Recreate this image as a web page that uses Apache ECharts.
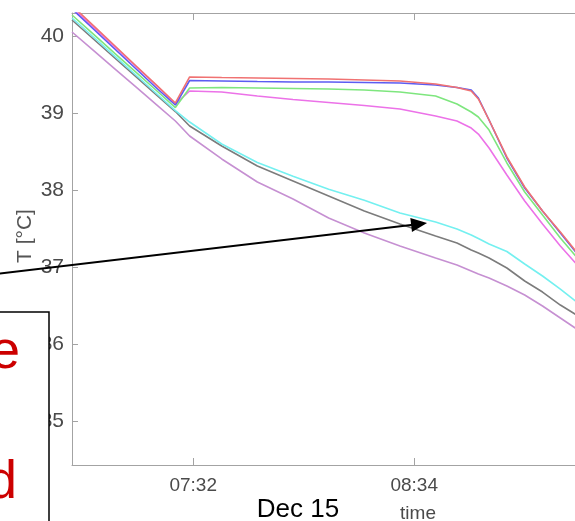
<!DOCTYPE html>
<html>
<head>
<meta charset="utf-8">
<script src="https://cdn.jsdelivr.net/npm/echarts@6/dist/echarts.min.js"></script>
<style>
html,body{margin:0;padding:0;background:#fff;overflow:hidden;width:575px;height:521px;}
#c{width:600px;height:521px;}
</style>
</head>
<body>
<div id="c"></div>
<script>
// time in minutes since midnight (Dec 15)
const times = [418, 424, 430, 436, 442, 447, 451, 460, 470, 480, 490, 500, 510, 520, 526, 530, 532, 535, 540, 545, 550, 555, 560];

const redT     = [40.396, 40.134, 39.873, 39.610, 39.348, 39.130, 39.468, 39.461, 39.455, 39.448, 39.442, 39.429, 39.416, 39.377, 39.331, 39.286, 39.182, 38.909, 38.429, 38.039, 37.727, 37.455, 37.169];
const blueT    = [40.351, 40.091, 39.831, 39.571, 39.312, 39.104, 39.422, 39.416, 39.409, 39.403, 39.403, 39.396, 39.390, 39.364, 39.331, 39.299, 39.195, 38.909, 38.416, 38.026, 37.727, 37.442, 37.156];
const magentaT = [40.370, 40.114, 39.857, 39.601, 39.344, 39.117, 39.286, 39.273, 39.221, 39.175, 39.136, 39.097, 39.052, 38.961, 38.896, 38.805, 38.727, 38.545, 38.195, 37.857, 37.558, 37.273, 37.013];
const greenT   = [40.273, 40.025, 39.775, 39.527, 39.279, 39.071, 39.325, 39.331, 39.325, 39.318, 39.312, 39.299, 39.273, 39.221, 39.117, 39.013, 38.948, 38.779, 38.351, 37.974, 37.675, 37.377, 37.104];
const cyanT    = [40.234, 39.987, 39.738, 39.490, 39.240, 39.032, 38.883, 38.597, 38.358, 38.178, 38.009, 37.866, 37.701, 37.584, 37.494, 37.416, 37.370, 37.299, 37.201, 37.039, 36.883, 36.714, 36.532];
const grayT    = [40.208, 39.961, 39.714, 39.468, 39.221, 39.019, 38.831, 38.571, 38.312, 38.117, 37.922, 37.727, 37.558, 37.403, 37.312, 37.221, 37.182, 37.117, 36.987, 36.818, 36.675, 36.506, 36.364];
const lilacT   = [40.052, 39.813, 39.574, 39.335, 39.096, 38.896, 38.701, 38.403, 38.104, 37.883, 37.636, 37.442, 37.273, 37.117, 37.026, 36.948, 36.909, 36.857, 36.753, 36.636, 36.494, 36.338, 36.182];

const yTicks = [35, 36, 37, 38, 39, 40];
const xTickValues = [452, 514];
const xTickLabels = ['07:32', '08:34'];
const dateLabel = 'Dec 15';
const xName = 'time';
const yName = 'T [°C]';
const arrowTip = [517.6, 37.57];    // data coords of arrow head
const arrowTail = [396.5, 36.91];   // data coords of arrow tail (outside the axes)

const seriesDefs = [
  {name: 'lilac', data: lilacT, color: '#c690d2'},
  {name: 'gray', data: grayT, color: '#7c7c7c'},
  {name: 'cyan', data: cyanT, color: '#74f0f0'},
  {name: 'magenta', data: magentaT, color: '#ec72e8'},
  {name: 'green', data: greenT, color: '#7ee67e'},
  {name: 'blue', data: blueT, color: '#5c5cf2'},
  {name: 'red', data: redT, color: '#f07272'}
];

const FONT = '"Liberation Sans", Arial, Helvetica, sans-serif';
const chart = echarts.init(document.getElementById('c'));

const axisColor = '#a3a3a3';
const labelColor = '#4a4a4a';

chart.setOption({
  animation: false,
  backgroundColor: '#fff',
  grid: {left: 72, top: 13, width: 524, height: 452, containLabel: false},
  xAxis: [{
    type: 'value', min: 418, max: 565, position: 'bottom',
    splitLine: {show: false},
    axisLine: {lineStyle: {color: axisColor, width: 1}},
    axisTick: {inside: true, length: 7, lineStyle: {color: axisColor}, customValues: xTickValues},
    axisLabel: {
      customValues: xTickValues, margin: 11, fontSize: 19, color: labelColor, fontFamily: FONT,
      formatter: function (v) { const i = xTickValues.indexOf(v); return i >= 0 ? xTickLabels[i] : ''; }
    }
  }, {
    type: 'value', min: 418, max: 565, position: 'top',
    splitLine: {show: false},
    axisLine: {lineStyle: {color: axisColor, width: 1}},
    axisTick: {inside: true, length: 7, lineStyle: {color: axisColor}, customValues: xTickValues},
    axisLabel: {show: false}
  }],
  yAxis: [{
    type: 'value', min: 34.4286, max: 40.2987,
    splitLine: {show: false},
    axisLine: {show: true, lineStyle: {color: axisColor, width: 1}},
    axisTick: {show: true, inside: true, length: 6, lineStyle: {color: axisColor}, customValues: yTicks},
    axisLabel: {customValues: yTicks, margin: 8, fontSize: 21, color: labelColor, fontFamily: FONT}
  }],
  series: seriesDefs.map(s => ({
    type: 'line', name: s.name, showSymbol: false, symbol: 'none',
    xAxisIndex: 0, yAxisIndex: 0,
    data: times.map((t, i) => [t, s.data[i]]),
    lineStyle: {color: s.color, width: 1.6}, itemStyle: {color: s.color},
    clip: true, z: 2
  }))
});

const tip = chart.convertToPixel({xAxisIndex: 0, yAxisIndex: 0}, arrowTip);
const tail = chart.convertToPixel({xAxisIndex: 0, yAxisIndex: 0}, arrowTail);
const dx = tip[0] - tail[0], dy = tip[1] - tail[1];
const L = Math.sqrt(dx * dx + dy * dy);
const ux = dx / L, uy = dy / L;
const headLen = 16, headHalf = 7;
const bx = tip[0] - ux * headLen, by = tip[1] - uy * headLen;

chart.setOption({
  graphic: [
    {type: 'text', z: 50, x: 25, y: 236, rotation: Math.PI / 2,
     style: {text: yName, fill: '#555', font: '21px ' + FONT, align: 'center', verticalAlign: 'middle'}},
    {type: 'line', z: 100, shape: {x1: tail[0], y1: tail[1], x2: bx + ux * 2, y2: by + uy * 2},
     style: {stroke: '#000', lineWidth: 2}},
    {type: 'polygon', z: 100, shape: {points: [
      [tip[0], tip[1]],
      [bx - uy * headHalf, by + ux * headHalf],
      [bx + uy * headHalf, by - ux * headHalf]
    ]}, style: {fill: '#000'}},
    {type: 'rect', z: 101, shape: {x: -3, y: 312, width: 52, height: 260},
     style: {fill: '#fff', stroke: '#000', lineWidth: 1.5}},
    {type: 'text', z: 102, x: 20, y: 353,
     style: {text: 'e', fill: '#cc0000', font: '54px ' + FONT, align: 'right', verticalAlign: 'middle'}},
    {type: 'text', z: 102, x: 17, y: 483,
     style: {text: 'd', fill: '#cc0000', font: '54px ' + FONT, align: 'right', verticalAlign: 'middle'}},
    {type: 'text', z: 102, x: 298, y: 510,
     style: {text: dateLabel, fill: '#000', font: '26px ' + FONT, align: 'center', verticalAlign: 'middle'}},
    {type: 'text', z: 102, x: 418, y: 514,
     style: {text: xName, fill: labelColor, font: '19px ' + FONT, align: 'center', verticalAlign: 'middle'}}
  ]
});
</script>
</body>
</html>
